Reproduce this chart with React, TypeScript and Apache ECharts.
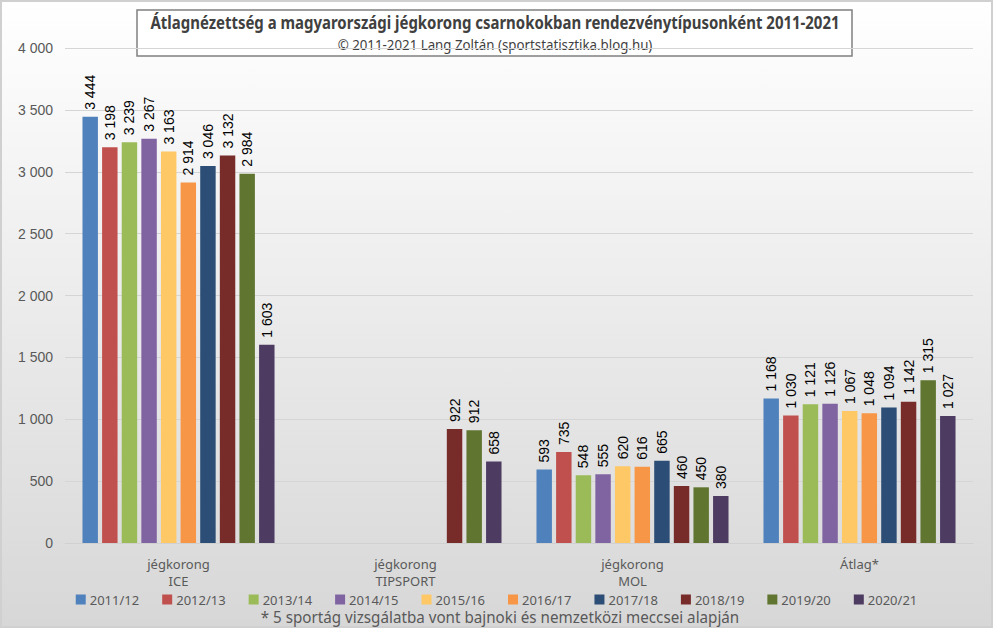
import React, { useEffect, useRef } from "react";
import * as echarts from "echarts";

const categories = ["jégkorong\nICE", "jégkorong\nTIPSPORT", "jégkorong\nMOL", "Átlag*"];
const seasons = ["2011/12", "2012/13", "2013/14", "2014/15", "2015/16", "2016/17", "2017/18", "2018/19", "2019/20", "2020/21"];
const colors = ["#4F81BD", "#C0504D", "#9BBB59", "#8064A2", "#FDC865", "#F79646", "#2C4D75", "#772C2A", "#5F7530", "#4D3B62"];
// values per season: [ICE, TIPSPORT, MOL, Átlag]
const v2011 = [3444, null, 593, 1168];
const v2012 = [3198, null, 735, 1030];
const v2013 = [3239, null, 548, 1121];
const v2014 = [3267, null, 555, 1126];
const v2015 = [3163, null, 620, 1067];
const v2016 = [2914, null, 616, 1048];
const v2017 = [3046, null, 665, 1094];
const v2018 = [3132, 922, 460, 1142];
const v2019 = [2984, 912, 450, 1315];
const v2020 = [1603, 658, 380, 1027];
const seriesValues = [v2011, v2012, v2013, v2014, v2015, v2016, v2017, v2018, v2019, v2020];
const yTicks = { min: 0, max: 4000, interval: 500 };
const titleText = "Átlagnézettség a magyarországi jégkorong csarnokokban rendezvénytípusonként 2011-2021";
const subtitleText = "© 2011-2021 Lang Zoltán (sportstatisztika.blog.hu)";
const footnote = "* 5 sportág vizsgálatba vont bajnoki és nemzetközi meccsei alapján";

const fmt = (n: number) =>
  n >= 1000 ? `${Math.floor(n / 1000)} ${String(n % 1000).padStart(3, "0")}` : String(n);

const SANS = "'Noto Sans', 'Open Sans', sans-serif";
const ARIAL = "'Liberation Sans', Arial, sans-serif";

export default function App() {
  const ref = useRef<HTMLDivElement>(null);
  useEffect(() => {
    if (!ref.current) return;
    const chart = echarts.init(ref.current, undefined, { renderer: "svg" });
    chart.setOption({
      animation: false,
      backgroundColor: {
        type: "linear", x: 0, y: 0, x2: 0, y2: 1,
        colorStops: [
          { offset: 0, color: "#ffffff" },
          { offset: 1, color: "#d7d7d7" },
        ],
      },
      color: colors,
      legend: {
        data: seasons,
        left: "center",
        top: 588,
        itemWidth: 10,
        itemHeight: 10,
        itemGap: 23,
        icon: "rect",
        textStyle: { fontFamily: SANS, fontSize: 13, color: "#595959", padding: [0, 0, 0, -1] },
      },
      grid: { left: 65, right: 20, top: 48, bottom: 85, containLabel: false },
      xAxis: {
        type: "category",
        data: categories,
        axisLine: { show: true, lineStyle: { color: "#d0d0d0", width: 1 } },
        axisTick: { show: false },
        axisLabel: { fontFamily: SANS, fontSize: 13, color: "#595959", lineHeight: 17, margin: 12 },
      },
      yAxis: {
        type: "value",
        min: yTicks.min,
        max: yTicks.max,
        interval: yTicks.interval,
        axisLine: { show: false },
        axisTick: { show: false },
        splitLine: { lineStyle: { color: "#d5d5d5", width: 1 } },
        axisLabel: { fontFamily: ARIAL, fontSize: 14, color: "#595959", margin: 12, formatter: (v: number) => fmt(v) },
      },
      graphic: [
        {
          type: "rect",
          shape: { x: 1, y: 1, width: 991, height: 626 },
          style: { fill: "none", stroke: "#d0d0d0", lineWidth: 2 },
          silent: true,
        },
        {
          type: "rect",
          shape: { x: 137, y: 10, width: 715, height: 46 },
          style: { fill: "#ffffff", stroke: "#808080", lineWidth: 1.5 },
          silent: true,
        },
        {
          type: "text",
          x: 495,
          y: 23,
          scaleX: 0.88,
          style: {
            text: titleText,
            font: `bold 17px ${SANS}`,
            fill: "#404040",
            align: "center",
            verticalAlign: "middle",
          },
        },
        {
          type: "text",
          x: 495,
          y: 44,
          scaleX: 0.95,
          style: {
            text: subtitleText,
            font: `14px ${SANS}`,
            fill: "#404040",
            align: "center",
            verticalAlign: "middle",
          },
        },
        {
          type: "text",
          x: 500,
          y: 617,
          scaleX: 0.95,
          style: {
            text: footnote,
            font: `16px ${SANS}`,
            fill: "#595959",
            align: "center",
            verticalAlign: "middle",
          },
        },
      ],
      series: seasons.map((s, i) => ({
        name: s,
        type: "bar",
        data: seriesValues[i],
        barGap: "27%",
        barCategoryGap: "15.4%",
        itemStyle: { color: colors[i] },
        label: {
          show: true,
          position: "top",
          rotate: 90,
          align: "left",
          verticalAlign: "middle",
          distance: 7,
          fontFamily: ARIAL,
          fontSize: 14,
          color: "#000000",
          formatter: (p: any) => (p.value == null ? "" : fmt(p.value)),
        },
      })),
    });
    return () => chart.dispose();
  }, []);
  return <div ref={ref} style={{ position: "fixed", left: 0, top: 0, width: 993, height: 628 }} />;
}
